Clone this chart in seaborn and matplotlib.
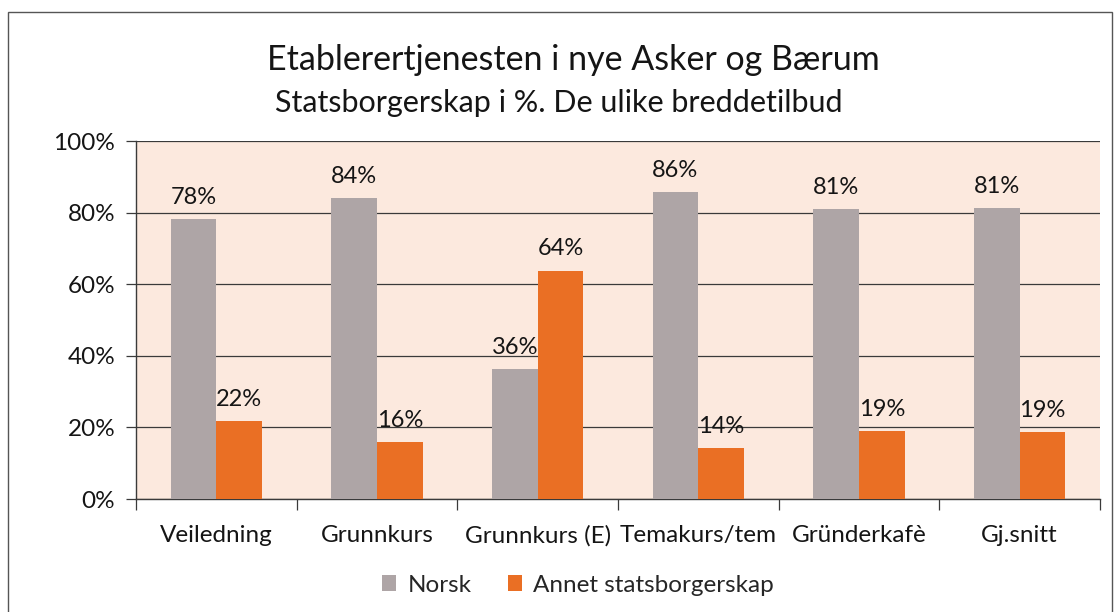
import matplotlib
matplotlib.use("Agg")
import matplotlib.pyplot as plt
import seaborn as sns
import pandas as pd
import numpy as np
from matplotlib.patches import Rectangle
from matplotlib.ticker import FixedLocator, PercentFormatter

categories = ["Veiledning", "Grunnkurs", "Grunnkurs (E)", "Temakurs/tem", "Gründerkafè", "Gj.snitt"]
norsk = [78.3, 84.1, 36.2, 85.8, 80.9, 81.2]
annet = [21.7, 15.9, 63.8, 14.2, 19.1, 18.8]
series_names = ["Norsk", "Annet statsborgerskap"]
colors = ["#aea5a6", "#ea6f24"]
title = "Etablerertjenesten i nye Asker og Bærum"
subtitle = "Statsborgerskap i %. De ulike breddetilbud"

df = pd.DataFrame({
    "Kategori": categories * 2,
    "Serie": [series_names[0]] * len(categories) + [series_names[1]] * len(categories),
    "Verdi": norsk + annet,
})

sns.set_theme(style="white")
plt.rcParams["font.family"] = ["Lato", "DejaVu Sans"]

fig = plt.figure(figsize=(11.18, 6.12), dpi=100)
ax = fig.add_axes([136/1118, 1-499/612, (1100-136)/1118, (499-141)/612])
ax.set_facecolor("#fce9de")

sns.barplot(data=df, x="Kategori", y="Verdi", hue="Serie", order=categories,
            hue_order=series_names, palette=colors, width=0.57, saturation=1,
            linewidth=0, ax=ax, legend=True, zorder=3)

for cont in ax.containers:
    ax.bar_label(cont, labels=[f"{v:.0f}%" for v in cont.datavalues], padding=8,
                 fontsize=17, color="#151515")

ax.set_ylim(0, 100)
ax.set_xlim(-0.5, len(categories) - 0.5)
ax.yaxis.set_major_locator(FixedLocator([0, 20, 40, 60, 80, 100]))
ax.yaxis.set_major_formatter(PercentFormatter(decimals=0))
ax.grid(axis="y", color="#3a3a3a", linewidth=0.9, zorder=0)
ax.set_axisbelow(True)
ax.set_xlabel("")
ax.set_ylabel("")

ax.tick_params(axis="y", which="major", direction="out", length=7, width=0.9,
               color="#3a3a3a", labelsize=17.5, pad=8, left=True, labelcolor="#151515")
ax.tick_params(axis="x", which="major", length=0, labelsize=17.5, pad=19, labelcolor="#151515")
ax.set_xticks(np.arange(-0.5, len(categories)), minor=True)
ax.tick_params(axis="x", which="minor", direction="out", length=8, width=0.9,
               color="#3a3a3a", bottom=True)

for side in ["top", "right"]:
    ax.spines[side].set_visible(False)
for side in ["left", "bottom"]:
    ax.spines[side].set_color("#3a3a3a")
    ax.spines[side].set_linewidth(1.0)

handles, labels = ax.get_legend_handles_labels()
ax.legend_.remove()
fig.legend(handles, labels, loc="center", bbox_to_anchor=(578/1118, 1-585/612), ncol=2,
           frameon=False, fontsize=17.5, handlelength=0.6, handleheight=0.6,
           handletextpad=0.45, columnspacing=1.5)

fig.text(0.513, 1-60/612, title, ha="center", va="center", fontsize=24.5, color="#151515")
fig.text(0.4996, 1-103/612, subtitle, ha="center", va="center", fontsize=22, color="#151515")

fig.patches.append(Rectangle((8/1118, -0.02), (1112-8)/1118, 1-12/612+0.02,
                             transform=fig.transFigure, fill=False,
                             edgecolor="#555555", linewidth=1.0))

fig.savefig("out.png", dpi=100, facecolor="white")
